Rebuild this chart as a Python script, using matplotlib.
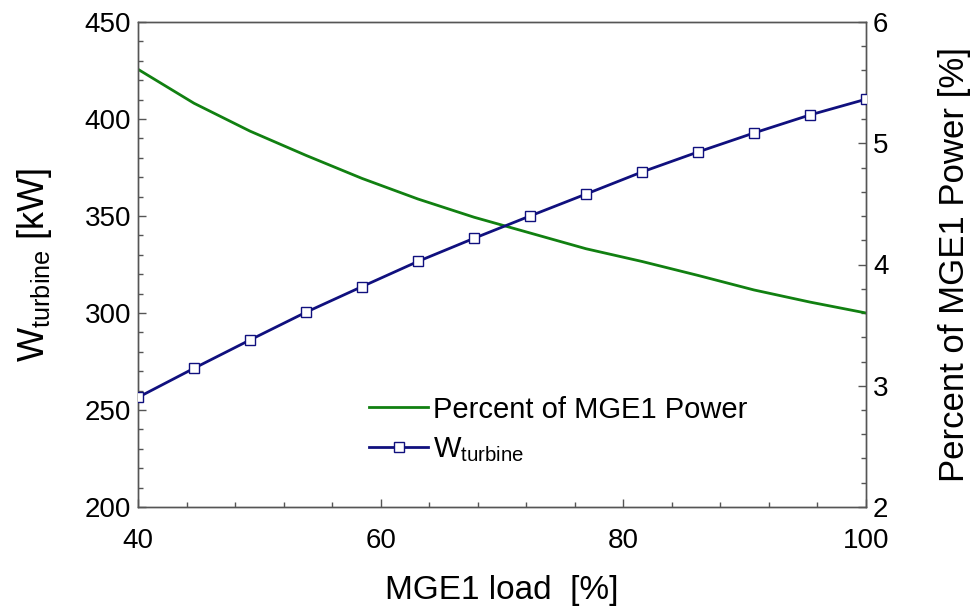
import matplotlib
matplotlib.use("Agg")
import matplotlib.pyplot as plt
from matplotlib.ticker import MultipleLocator
from matplotlib import font_manager

# ---- data ----
load_pct = [40.0, 44.615, 49.231, 53.846, 58.462, 63.077, 67.692,
            72.308, 76.923, 81.538, 86.154, 90.769, 95.385, 100.0]
w_turbine = [256.5, 271.5, 286.1, 300.4, 313.6, 326.6, 338.5,
             350.0, 361.3, 372.7, 383.0, 392.8, 402.1, 410.2]
percent_power = [5.61, 5.33, 5.10, 4.90, 4.71, 4.54, 4.39,
                 4.26, 4.13, 4.025, 3.91, 3.79, 3.69, 3.60]

names = {f.name for f in font_manager.fontManager.ttflist}
base = "Liberation Sans" if "Liberation Sans" in names else "DejaVu Sans"
narrow = "Liberation Sans Narrow" if "Liberation Sans Narrow" in names else base

plt.rcParams["font.family"] = [base, "DejaVu Sans"]
plt.rcParams["mathtext.fontset"] = "custom"
plt.rcParams["mathtext.rm"] = base
plt.rcParams["mathtext.it"] = base

BLUE = "#10107e"
GREEN = "#118011"
SPINE = "#555555"

fig = plt.figure(figsize=(9.76, 6.09), dpi=100)
ax = fig.add_axes([138/976, 1-507/609, (866-138)/976, (507-22)/609])
ax2 = ax.twinx()

ax2.plot(load_pct, percent_power, color=GREEN, lw=2.0, label="Percent of MGE1 Power")
ax.plot(load_pct, w_turbine, color=BLUE, lw=2.0, marker="s", ms=6.5,
        mfc="white", mec=BLUE, mew=1.0, label=r"W$_{\mathrm{turbine}}$", zorder=5)
ax.set_zorder(ax2.get_zorder() + 1)
ax.patch.set_visible(False)

ax.set_xlim(40, 100)
ax.set_ylim(200, 450)
ax2.set_ylim(2, 6)

ax.xaxis.set_major_locator(MultipleLocator(20))
ax.xaxis.set_minor_locator(MultipleLocator(4))
ax.yaxis.set_major_locator(MultipleLocator(50))
ax.yaxis.set_minor_locator(MultipleLocator(10))
ax2.yaxis.set_major_locator(MultipleLocator(1))
ax2.yaxis.set_minor_locator(MultipleLocator(0.2))

for a in (ax, ax2):
    for s in a.spines.values():
        s.set_color(SPINE)
        s.set_linewidth(1.0)
    a.tick_params(which="both", direction="in", color=SPINE, width=1.0)
    a.tick_params(which="major", length=6)
    a.tick_params(which="minor", length=3.5)

ax.tick_params(axis="y", which="both", left=True, right=False, labelsize=20, pad=5)
ax.tick_params(axis="x", which="both", top=False, labelsize=20, pad=15)
for lab in ax.get_xticklabels():
    lab.set_fontfamily([narrow, base])
ax2.tick_params(axis="y", which="both", right=True, left=False, labelsize=20, pad=5)

ax.set_xlabel("MGE1 load  [%]", fontsize=24, family=[narrow, base], labelpad=15)
ax.set_ylabel(r"W$_{\mathrm{turbine}}$ [kW]", fontsize=26, labelpad=22)
ax2.set_ylabel("Percent of MGE1 Power [%]", fontsize=25, labelpad=36)

h1, l1 = ax2.get_legend_handles_labels()
h2, l2 = ax.get_legend_handles_labels()
leg = ax.legend(h1 + h2, l1 + l2, loc="upper left",
                bbox_to_anchor=((357-138)/728, (507-384)/485),
                frameon=False, fontsize=21, handlelength=2.05,
                handletextpad=0.15, labelspacing=0.4, borderaxespad=0)

fig.savefig("out.png", dpi=100)
